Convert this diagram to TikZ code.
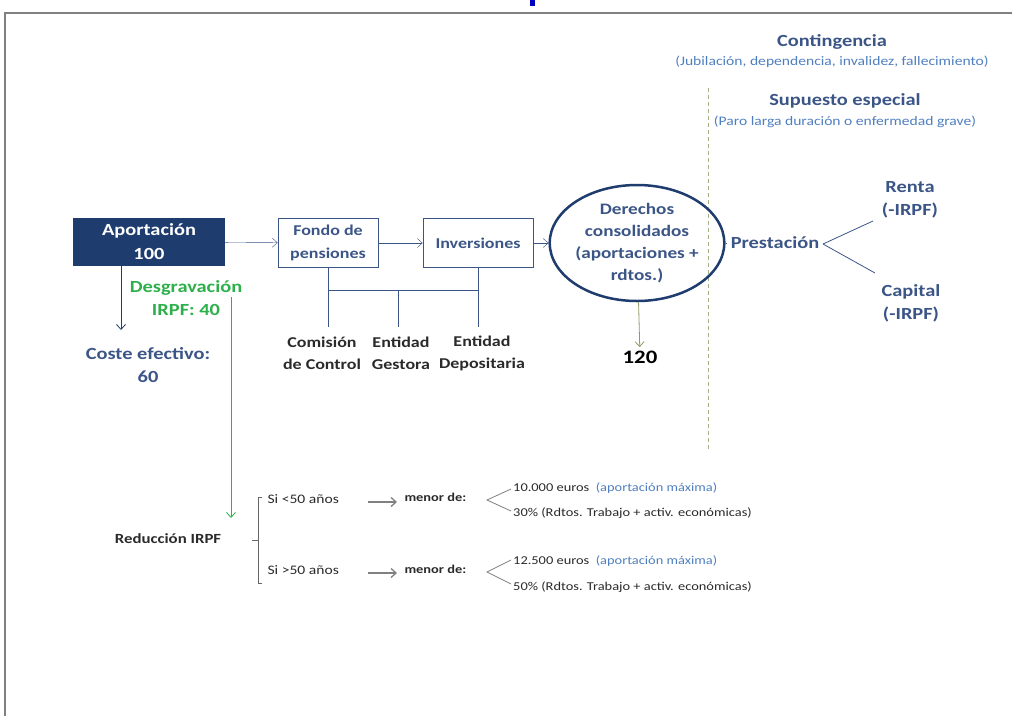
\documentclass[tikz,border=0pt]{standalone}
\usepackage{fontspec}
\setmainfont{Carlito}[FakeStretch=1.2]
\usetikzlibrary{arrows.meta,shapes.geometric}
\definecolor{navy}{HTML}{1F3C6E}
\definecolor{slate}{HTML}{3B5586}
\definecolor{skyblue}{HTML}{4F7FC0}
\definecolor{leaf}{HTML}{2DB04B}
\definecolor{olive}{HTML}{8E9A63}
\definecolor{ink}{HTML}{2A2A2A}
\tikzset{
  box/.style={draw=slate,thick,minimum height=49pt,align=center,
    font=\fontsize{15}{23}\selectfont\bfseries,text=slate},
  lbl/.style={align=center,font=\fontsize{17}{23}\selectfont\bfseries,text=slate},
  note/.style={align=center,font=\fontsize{13}{15}\selectfont,text=skyblue},
  party/.style={align=center,font=\fontsize{15}{22}\selectfont\bfseries,text=ink},
  rule/.style={font=\fontsize{12}{14}\selectfont,text=ink,anchor=west,inner sep=0pt},
}

\begin{document}
\begin{tikzpicture}[x=1pt,y=-1pt,>={Straight Barb[length=5pt,width=9pt]}]
  \useasboundingbox (0,0) rectangle (1012,716);
  % frame and clipped title
  \draw[gray,line width=1.5pt] (1012,13) -- (5,13) -- (5,716);
  \fill[blue!75!black] (530,0) rectangle (535,6);

  % headers right
  \node[lbl] (cont) at (832,42) {Contingencia};
  \node[note] (contx) at (832,62) {(Jubilación, dependencia, invalidez, fallecimiento)};
  \node[lbl] (sup) at (845,101) {Supuesto especial};
  \node[note] (supx) at (845,122) {(Paro larga duración o enfermedad grave)};
  \draw[olive!80,dash pattern=on 4pt off 3pt] (708,88) -- (708,450);

  % main chain
  \node[fill=navy,minimum width=152pt,minimum height=48pt,align=center,
        font=\fontsize{17}{24}\selectfont\bfseries,text=white] (apor) at (149,242) {Aportación\\100};
  \node[box,minimum width=100pt] (fondo) at (328,243) {Fondo de\\pensiones};
  \node[box,minimum width=110pt] (inv) at (478,243) {Inversiones};
  \node[ellipse,draw=navy,line width=2.5pt,minimum width=136pt,minimum height=116pt,inner sep=0pt,
        align=center,font=\fontsize{16}{22}\selectfont\bfseries,text=slate] (dcho) at (637,243)
        {Derechos\\consolidados\\(aportaciones +\\rdtos.)};
  \node[lbl] (prest) at (775,243) {Prestación};
  \node[lbl] (renta) at (910,200) {Renta\\(-IRPF)};
  \node[lbl] (capital) at (911,303) {Capital\\(-IRPF)};
  \coordinate (fork) at (823,244);
  \coordinate (rentaend) at (873,221);
  \coordinate (capend) at (875,273);

  \draw[->,slate] (apor) -- (fondo);
  \draw[->,slate] (fondo) -- (inv);
  \draw[->,slate] (inv) -- (dcho);
  \draw[slate,thick] (dcho) -- (prest);
  \draw[slate,thick] (fork) -- (rentaend);
  \draw[slate,thick] (fork) -- (capend);

  \node[font=\fontsize{19}{22}\selectfont\bfseries] (total) at (640,357) {120};
  \draw[->,olive,thick] (dcho) -- (total);

  % parties below
  \node[party] (comis) at (322,353) {Comisión\\de Control};
  \node[party] (gest) at (401,353) {Entidad\\Gestora};
  \node[party] (depos) at (482,353) {Entidad\\Depositaria};
  \coordinate (jn) at (398,290);
  \draw[slate] (fondo.south) -- (fondo.south |- 0,327);
  \draw[slate] (inv.south) -- (inv.south |- 0,327);
  \draw[slate] (fondo.south |- jn) -- (inv.south |- jn);
  \draw[slate] (jn) -- (jn |- 0,327);

  % left side
  \node[lbl] (coste) at (148,365) {Coste efectivo:\\60};
  \node[lbl,text=leaf] (desgr) at (186,298) {Desgravación\\IRPF: 40};
  \coordinate (ctop) at (121,266);
  \draw[->,navy,thick] (ctop) -- (ctop |- 0,330);
  \coordinate (gtop) at (231,297);
  \coordinate (gbot) at (231,518);
  \draw[->,leaf,thick] (gtop) -- (gbot);

  % reduccion IRPF
  \node[font=\fontsize{14}{16}\selectfont\bfseries,text=ink] (red) at (168,539) {Reducción IRPF};
  \draw[gray!80!black,thick] (262,497) -- (258,497) -- (258,583) -- (262,583);
  \draw[gray!80!black,thick] (252,540) -- (258,540);
  \node[font=\fontsize{13}{16}\selectfont,text=ink,anchor=west] (menos) at (264,499) {Si <50 años};
  \node[font=\fontsize{13}{16}\selectfont,text=ink,anchor=west] (mas) at (264,570) {Si >50 años};
  \node[font=\fontsize{12}{14}\selectfont\bfseries,text=ink,anchor=west] (m1) at (401,497) {menor de:};
  \node[font=\fontsize{12}{14}\selectfont\bfseries,text=ink,anchor=west] (m2) at (401,569) {menor de:};
  \draw[->,gray,line width=1.3pt] ([xshift=26pt,yshift=-3pt]menos.east) -- ([xshift=-4pt,yshift=-3pt]menos.east -| m1.west);
  \draw[->,gray,line width=1.3pt] ([xshift=26pt,yshift=-3pt]mas.east) -- ([xshift=-4pt,yshift=-3pt]mas.east -| m2.west);
  \draw[gray,thick] (511,489) -- (487,500) -- (511,511);
  \draw[gray,thick] (511,560) -- (487,572) -- (511,584);
  \node[rule] (r1) at (513,488) {10.000 euros \ \textcolor{skyblue}{(aportación máxima)}};
  \node[rule] (r2) at (513,513) {30\% (Rdtos. Trabajo + activ. económicas)};
  \node[rule] (r3) at (513,561) {12.500 euros \ \textcolor{skyblue}{(aportación máxima)}};
  \node[rule] (r4) at (513,587) {50\% (Rdtos. Trabajo + activ. económicas)};
\end{tikzpicture}
\end{document}
